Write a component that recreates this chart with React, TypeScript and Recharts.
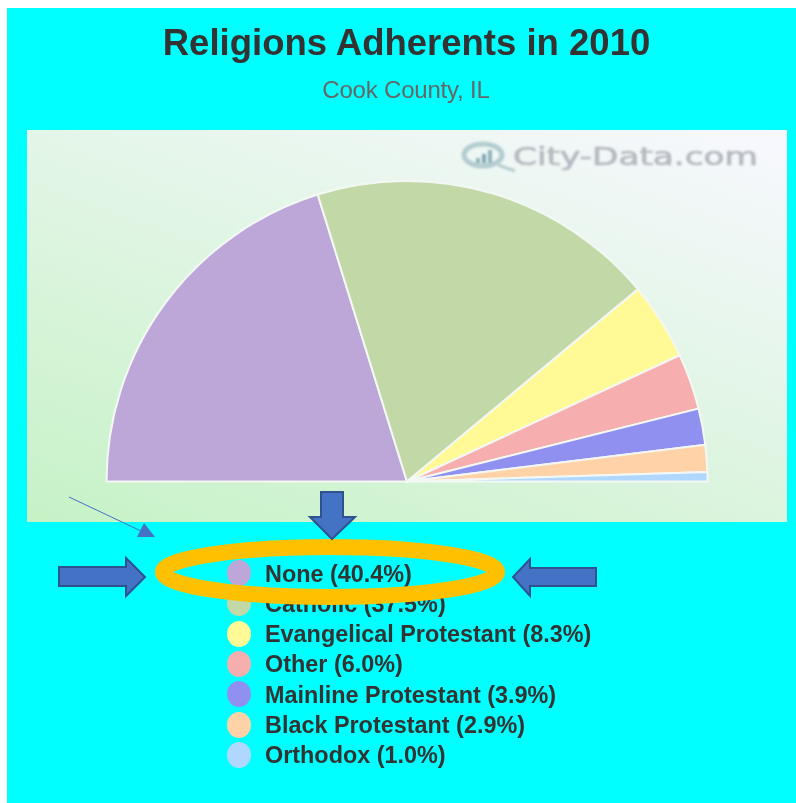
import React from "react";
import { PieChart, Pie, Cell, Legend } from "recharts";

const categories = ["None", "Catholic", "Evangelical Protestant", "Other", "Mainline Protestant", "Black Protestant", "Orthodox"];
const shares = [40.4, 37.5, 8.3, 6.0, 3.9, 2.9, 1.0];
const colors = ["#BCA7D8", "#C3D8A7", "#FFFA95", "#F7AEAE", "#9090F0", "#FFD2A8", "#B0D8FF"];
const data = categories.map((c, i) => ({ name: `${c} (${shares[i].toFixed(1)}%)`, value: shares[i] }));

const font = "'Liberation Sans', Arial, sans-serif";

const LegendList = () => (
  <div style={{ position: "relative", filter: "blur(0.5px)" }}>
    {data.map((d, i) => (
      <div key={d.name} style={{ position: "absolute", left: 0, top: i * 30.3, height: 26, width: 400, display: "flex", alignItems: "center" }}>
        <span style={{ width: 24, height: 26, borderRadius: "50%", background: colors[i], display: "inline-block", marginRight: 14 }} />
        <span style={{ font: `bold 23.4px ${font}`, color: "#333", whiteSpace: "nowrap", position: "relative", top: 1 }}>{d.name}</span>
      </div>
    ))}
  </div>
);

export default function App() {
  return (
    <div style={{ position: "absolute", left: 0, top: 0, width: 796, height: 803, overflow: "hidden", background: "#fff" }}>
      <div style={{ position: "absolute", left: 7, top: 8, width: 789, height: 795, background: "#00FFFF" }} />
      <div style={{ position: "absolute", left: 0, top: 22, width: 813, textAlign: "center", font: `bold 36.5px ${font}`, color: "#333", whiteSpace: "nowrap", filter: "blur(0.5px)" }}>
        Religions Adherents in 2010
      </div>
      <div style={{ position: "absolute", left: 0, top: 76, width: 812, textAlign: "center", font: `24px ${font}`, letterSpacing: -0.2, color: "#666", whiteSpace: "nowrap", filter: "blur(0.5px)" }}>
        Cook County, IL
      </div>
      <div style={{ position: "absolute", left: 27, top: 130, width: 760, height: 392, background: "linear-gradient(20deg, #C6F2C6, #F8F8FF)" }} />
      <svg width={796} height={803} style={{ position: "absolute", left: 0, top: 0, filter: "blur(0.8px)" }}>
        <ellipse cx={483} cy={155} rx={19} ry={11} fill="none" stroke="#B4CCD0" strokeWidth={5} />
        <line x1={498} y1={165} x2={515} y2={171} stroke="#B8CCD0" strokeWidth={3} />
        <rect x={476} y={158} width={4} height={5} fill="#8FB4BC" />
        <rect x={482} y={154} width={4} height={9} fill="#7FA8B4" />
        <rect x={488} y={150} width={4} height={13} fill="#8FB4BC" />
        <text x={513} y={165} style={{ font: "24px 'DejaVu Sans', sans-serif" }} fill="#B6BAC0" stroke="#B6BAC0" strokeWidth={0.7} textLength={245} lengthAdjust="spacingAndGlyphs">City-Data.com</text>
      </svg>
      <div style={{ position: "absolute", left: 0, top: 0 }}>
        <PieChart width={796} height={803} margin={{ top: 0, right: 0, bottom: 0, left: 0 }} style={{ background: "transparent" }}>
          <Pie
            data={data}
            dataKey="value"
            nameKey="name"
            cx={407}
            cy={481.5}
            outerRadius={300.5}
            innerRadius={0}
            startAngle={180}
            endAngle={0}
            stroke="#F4F8F4"
            strokeWidth={2}
            isAnimationActive={false}
            label={false}
            labelLine={false}
          >
            {data.map((d, i) => (
              <Cell key={d.name} fill={colors[i]} />
            ))}
          </Pie>
          <Legend content={<LegendList />} wrapperStyle={{ position: "absolute", left: 227, top: 560, width: 400, bottom: "auto" }} />
        </PieChart>
      </div>
      <svg width={796} height={803} style={{ position: "absolute", left: 0, top: 0, pointerEvents: "none" }}>
        <ellipse cx={330} cy={572} rx={167} ry={25} fill="none" stroke="#FFC000" strokeWidth={16} />
        <g fill="#4472C4" stroke="#2F528F" strokeWidth={2}>
          <polygon points="321,492 343,492 343,517 355,517 332,539 310,517 321,517" />
          <polygon points="59,567 126,567 126,558 145,577 126,596 126,586 59,586" />
          <polygon points="596,568 530,568 530,559 513,577 530,596 530,586 596,586" />
        </g>
        <line x1={69} y1={497} x2={141} y2={531} stroke="#4472C4" strokeWidth={1} />
        <polygon points="144,523 137,537 155,537" fill="#4472C4" />
      </svg>
    </div>
  );
}
